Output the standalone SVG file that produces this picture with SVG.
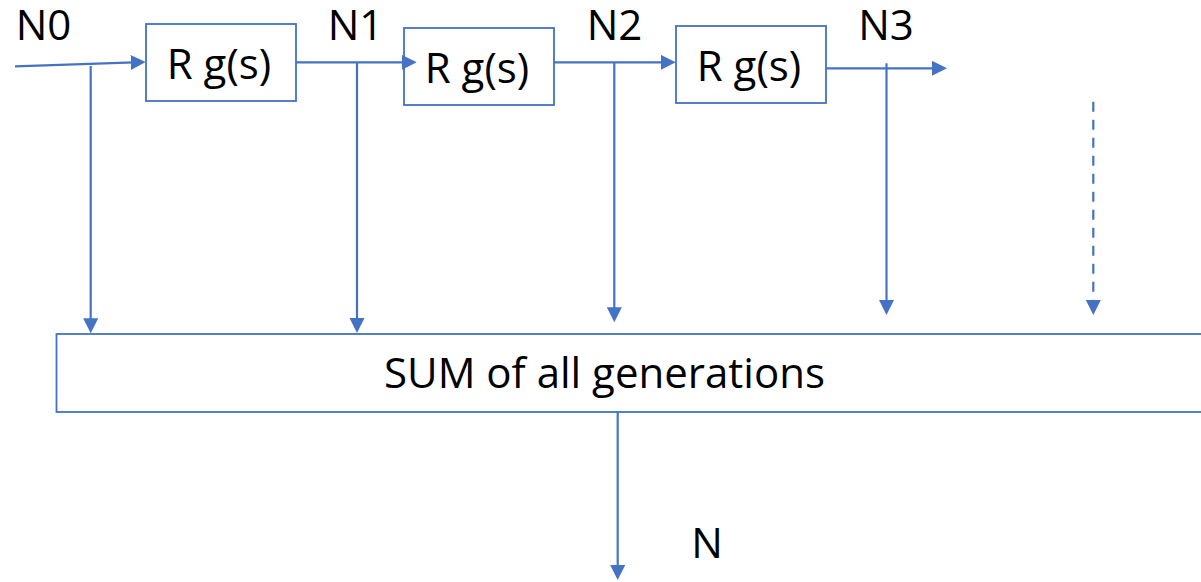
<svg xmlns="http://www.w3.org/2000/svg" width="1201" height="582" viewBox="0 0 1201 582">
  <style>
    .box { fill: #FFFFFF; stroke: #4472C4; stroke-width: 1.8; }
    .lbl { font-family: "Open Sans", "Liberation Sans", sans-serif; font-size: 42px; fill: #000000; text-anchor: middle; }
    .wire { fill: none; stroke: #4472C4; stroke-width: 2.2; marker-end: url(#tri); }
    .dash { stroke-dasharray: 10 8; }
  </style>
  <defs>
    <marker id="tri" markerUnits="userSpaceOnUse" markerWidth="16" markerHeight="16" refX="11" refY="7.5" orient="auto">
      <path d="M0,0 L15,7.5 L0,15 z" fill="#4472C4"/>
    </marker>
  </defs>

  <rect width="1201" height="582" fill="#FFFFFF"/>

  <!-- generation stages -->
  <g id="stage1">
    <rect class="box" x="146" y="24" width="150" height="77"/>
    <text class="lbl" x="219" y="79">R g(s)</text>
  </g>
  <g id="stage2">
    <rect class="box" x="404" y="28" width="150" height="77"/>
    <text class="lbl" x="477" y="83">R g(s)</text>
  </g>
  <g id="stage3">
    <rect class="box" x="676" y="26" width="150" height="77"/>
    <text class="lbl" x="749" y="81">R g(s)</text>
  </g>
  <g id="sum">
    <rect class="box" x="56.5" y="334" width="1160" height="78"/>
    <text class="lbl" x="604.5" y="388">SUM of all generations</text>
  </g>

  <!-- node labels -->
  <g id="n0"><text class="lbl" x="43.5" y="39.5">N0</text></g>
  <g id="n1"><text class="lbl" x="355.5" y="39.5">N1</text></g>
  <g id="n2"><text class="lbl" x="614.5" y="39.5">N2</text></g>
  <g id="n3"><text class="lbl" x="886" y="39.5">N3</text></g>
  <g id="n"><text class="lbl" x="707" y="558">N</text></g>

  <!-- connectors -->
  <g id="connectors">
    <path class="wire" d="M15,66.3 L141.7,62.1"/>
    <path class="wire" d="M296,62.3 L412.7,62.3"/>
    <path class="wire" d="M554,62.3 L671.7,62.3"/>
    <path class="wire" d="M826,68.3 L943,68.3"/>

    <path class="wire" d="M90.7,66 L90.7,329.3"/>
    <path class="wire" d="M357,62.3 L357,329"/>
    <path class="wire" d="M614.3,62.3 L614.3,318.3"/>
    <path class="wire" d="M886.5,63.3 L886.5,311"/>
    <path class="wire dash" d="M1093.3,101.7 L1093.3,311"/>

    <path class="wire" d="M617.7,412 L617.7,576"/>
  </g>
</svg>
